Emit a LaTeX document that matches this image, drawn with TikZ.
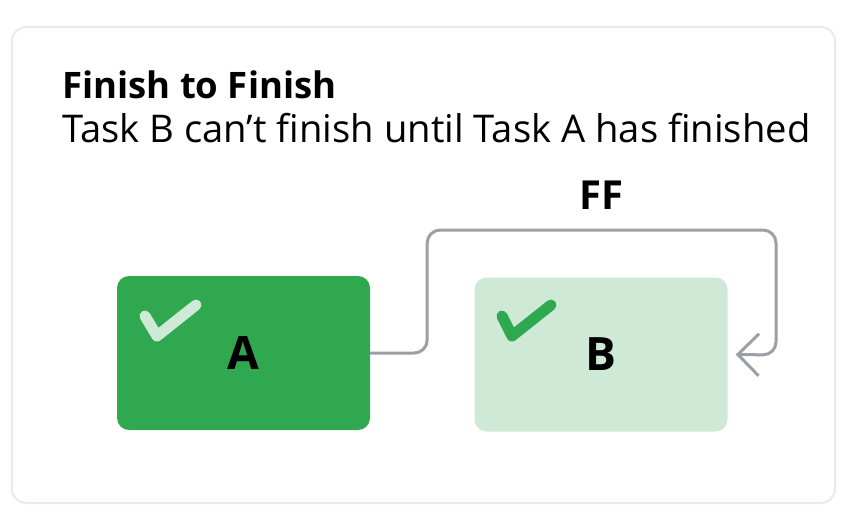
\documentclass[tikz,border=0pt]{standalone}
\usepackage{fontspec}
\setmainfont{Open Sans}
\usetikzlibrary{arrows.meta}
\definecolor{ggreen}{HTML}{2FA84F}
\definecolor{glight}{HTML}{CEEAD6}
\definecolor{ggrey}{HTML}{9AA0A6}
\definecolor{gborder}{HTML}{E8EAED}
\tikzset{
  task/.style={rounded corners=12pt, minimum width=253pt, minimum height=154pt, inner sep=0pt, font=\fontsize{46}{46}\selectfont\bfseries},
  tick/.style={line width=11pt, line cap=round, line join=round},
  link/.style={ggrey, line width=3pt, rounded corners=13pt}
}
\begin{document}
\begin{tikzpicture}[x=1pt,y=-1pt]
\useasboundingbox (0,0) rectangle (848,519);
\draw[gborder, line width=2pt, rounded corners=14pt] (12,27) rectangle (835,503);
\node[anchor=base west, inner sep=0pt, font=\fontsize{36.5}{36.5}\selectfont\bfseries] (title) at (62,98) {Finish to Finish};
\node[anchor=base west, inner sep=0pt, font=\fontsize{38.2}{38.2}\selectfont] (sub) at (62,142) {Task B can’t finish until Task A has finished};
\node[task, fill=ggreen] (a) at (243.5,353) {A};
\node[task, fill=glight] (b) at (601,354.5) {B};
\draw[tick, glight] (145,316) -- (157,336) -- (196,305);
\draw[tick, ggreen] (502,316) -- (512,336) -- (551,305);
\coordinate (top) at (776,230);
\draw[link, -{Straight Barb[length=21pt, width=42pt, line width=3pt]}] (a.east) -- ++(57,0) |- (top) -- (776,355) -- ([xshift=8pt]b.east);
\node[font=\fontsize{40}{40}\selectfont\bfseries] (ff) at (601,195) {FF};
\end{tikzpicture}
\end{document}
